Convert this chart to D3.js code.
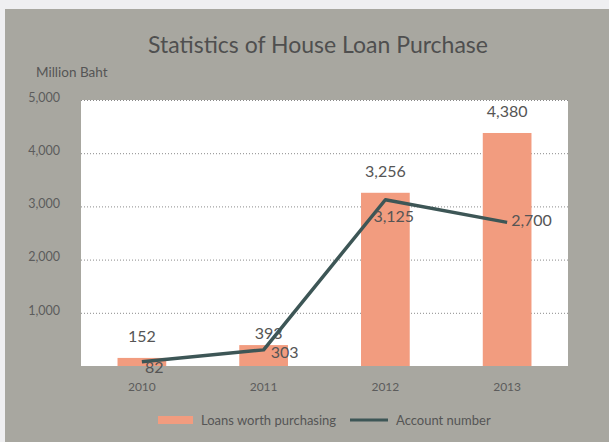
<!DOCTYPE html>
<html>
<head>
<meta charset="utf-8">
<script src="https://cdn.jsdelivr.net/npm/d3@7/dist/d3.min.js"></script>
<style>
  html, body { margin: 0; padding: 0; background: #efeff1; }
  svg { display: block; }
  text { font-family: "Lato", "Open Sans", sans-serif; }
</style>
</head>
<body>
<svg id="chart" width="609" height="442"></svg>
<script>
// Yearly figures
const years = ["2010", "2011", "2012", "2013"];
const loanValues = [152, 393, 3256, 4380];      // Loans worth purchasing (million baht)
const accountValues = [82, 303, 3125, 2700];     // Account number
const yTicks = [1000, 2000, 3000, 4000, 5000];

// Label nudges [dx, dy] relative to the bar top / line point
const loanLabelNudge = [[0, -16], [5, -6], [0, -16], [0, -16]];
const accountLabelNudge = [[3, 11], [7, 8], [-12, 22], [4, 4]];

const W = 609, H = 442;
const plot = { left: 81, right: 568, top: 100, bottom: 366 };

const svg = d3.select("#chart");

// Grey panel
svg.append("rect")
  .attr("x", 5).attr("y", 9)
  .attr("width", W - 5).attr("height", H - 9)
  .attr("fill", "#a8a7a0");

// Title
svg.append("text")
  .attr("x", 318).attr("y", 53)
  .attr("text-anchor", "middle")
  .attr("font-size", 23)
  .attr("fill", "#4f4f4f")
  .text("Statistics of House Loan Purchase");

svg.append("text")
  .attr("x", 36).attr("y", 77)
  .attr("font-size", 13.5)
  .attr("fill", "#555")
  .text("Million Baht");

const x = d3.scaleBand()
  .domain(years)
  .range([plot.left, plot.right])
  .paddingInner(0.6)
  .paddingOuter(0.3);

const y = d3.scaleLinear()
  .domain([0, 5000])
  .range([plot.bottom, plot.top]);

// White plotting area
svg.append("rect")
  .attr("x", plot.left).attr("y", plot.top)
  .attr("width", plot.right - plot.left).attr("height", plot.bottom - plot.top)
  .attr("fill", "#ffffff");

// Dotted gridlines
svg.append("g")
  .selectAll("line")
  .data(yTicks)
  .join("line")
  .attr("x1", plot.left).attr("x2", plot.right)
  .attr("y1", d => y(d) + 0.5).attr("y2", d => y(d) + 0.5)
  .attr("stroke", "#8a8a8a")
  .attr("stroke-width", 1)
  .attr("stroke-dasharray", "1,2");

// Y axis labels
const yAxis = svg.append("g")
  .attr("transform", `translate(${plot.left - 18},0)`)
  .call(d3.axisLeft(y).tickValues(yTicks).tickSize(0).tickFormat(d3.format(",")));
yAxis.select(".domain").remove();
yAxis.selectAll("text")
  .attr("font-family", "Lato, 'Open Sans', sans-serif")
  .attr("font-size", 12.5)
  .attr("fill", "#5c5c5c")
  .attr("dy", "0.1em");

// X axis labels
const xAxis = svg.append("g")
  .attr("transform", `translate(0,${plot.bottom + 13})`)
  .call(d3.axisBottom(x).tickSize(0));
xAxis.select(".domain").remove();
xAxis.selectAll("text")
  .attr("font-family", "Lato, 'Open Sans', sans-serif")
  .attr("font-size", 12)
  .attr("fill", "#5c5c5c");

const barColor = "#f29c7f";
const lineColor = "#3d5656";

// Bars
svg.append("g")
  .selectAll("rect")
  .data(loanValues)
  .join("rect")
  .attr("x", (d, i) => x(years[i]))
  .attr("y", d => y(d))
  .attr("width", x.bandwidth())
  .attr("height", d => y(0) - y(d))
  .attr("fill", barColor);

// Bar value labels
svg.append("g")
  .selectAll("text")
  .data(loanValues)
  .join("text")
  .attr("x", (d, i) => x(years[i]) + x.bandwidth() / 2 + loanLabelNudge[i][0])
  .attr("y", (d, i) => y(d) + loanLabelNudge[i][1])
  .attr("text-anchor", "middle")
  .attr("font-size", 16)
  .attr("fill", "#555")
  .text(d => d3.format(",")(d));

// Account line
const cx = (i) => x(years[i]) + x.bandwidth() / 2;
svg.append("path")
  .datum(accountValues)
  .attr("d", d3.line().x((d, i) => cx(i)).y(d => y(d)))
  .attr("fill", "none")
  .attr("stroke", lineColor)
  .attr("stroke-width", 3.5)
  .attr("stroke-linejoin", "round");

// Account value labels
svg.append("g")
  .selectAll("text")
  .data(accountValues)
  .join("text")
  .attr("x", (d, i) => cx(i) + accountLabelNudge[i][0])
  .attr("y", (d, i) => y(d) + accountLabelNudge[i][1])
  .attr("font-size", 16)
  .attr("fill", "#555")
  .text(d => d3.format(",")(d));

// Legend
const lg = svg.append("g");
lg.append("rect")
  .attr("x", 158).attr("y", 416)
  .attr("width", 35).attr("height", 8)
  .attr("fill", barColor);
lg.append("text")
  .attr("x", 201).attr("y", 425)
  .attr("font-size", 13)
  .attr("fill", "#555")
  .text("Loans worth purchasing");
lg.append("line")
  .attr("x1", 350).attr("x2", 388)
  .attr("y1", 420).attr("y2", 420)
  .attr("stroke", lineColor)
  .attr("stroke-width", 3);
lg.append("text")
  .attr("x", 396).attr("y", 425)
  .attr("font-size", 13)
  .attr("fill", "#555")
  .text("Account number");
</script>
</body>
</html>
